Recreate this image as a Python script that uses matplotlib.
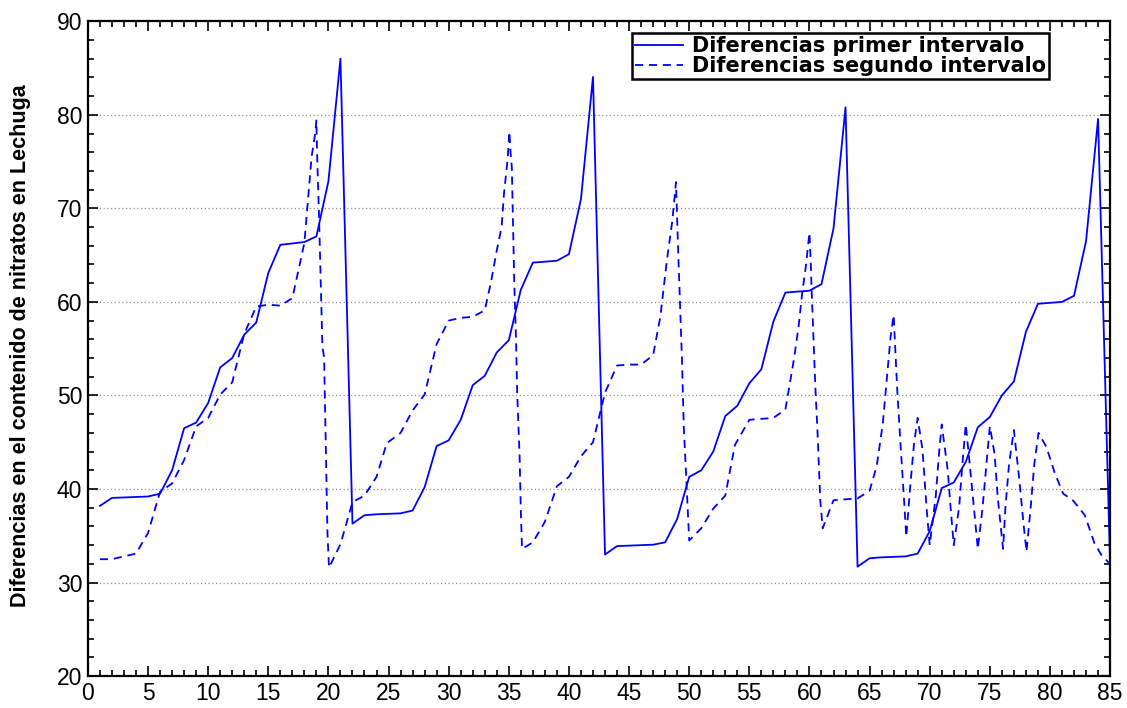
import matplotlib
matplotlib.use("Agg")
import matplotlib.pyplot as plt

# primer intervalo: one value per sample 1..85
x_primer = list(range(1, 86))
y_primer = [38.2, 39.05, 39.1, 39.15, 39.2, 39.5, 42.0, 46.5, 47.1, 49.2,
            53.0, 54.0, 56.5, 57.8, 63.1, 66.1, 66.25, 66.4, 67.0, 72.9,
            86.0, 36.3, 37.2, 37.3, 37.35, 37.4, 37.7, 40.2, 44.6, 45.2,
            47.4, 51.1, 52.1, 54.6, 55.9, 61.3, 64.2, 64.3, 64.4, 65.1,
            71.0, 84.05, 33.0, 33.9, 33.95, 34.0, 34.05, 34.3, 36.8, 41.3,
            42.0, 44.0, 47.8, 48.9, 51.3, 52.8, 57.9, 61.0, 61.1, 61.2,
            61.9, 67.85, 80.8, 31.7, 32.6, 32.7, 32.75, 32.8, 33.1, 35.5,
            40.1, 40.7, 42.9, 46.6, 47.7, 50.0, 51.5, 56.8, 59.8, 59.9,
            60.0, 60.65, 66.5, 79.55, 32.0]

# segundo intervalo (vertices)
x_segundo = [1, 2, 3, 4, 5, 6, 7, 8, 9, 10,
             11, 12, 13, 14, 15, 16, 17, 18, 18.3, 18.6,
             18.9, 19.0, 19.06, 19.22, 19.5, 19.64, 19.92, 20.05, 21, 22,
             23, 24, 24.85, 26, 27, 28, 29, 30, 31, 32,
             33, 33.5, 34, 34.4, 34.6, 34.9, 35.05, 35.15, 35.25, 35.35,
             35.45, 35.6, 35.7, 35.9, 36.0, 36.1, 37, 38, 39, 40,
             41, 42, 43, 44, 45, 46, 47, 47.6, 48.15, 48.6,
             48.9, 49.1, 49.4, 49.55, 49.7, 50.0, 51, 52, 53, 53.8,
             55, 56, 57, 58, 58.7, 59.1, 59.4, 59.7, 60.0, 60.1,
             60.2, 60.5, 60.65, 60.9, 61.1, 62, 63, 64, 65, 65.6,
             66.1, 66.5, 66.75, 67.0, 67.3, 67.6, 67.85, 68.05, 68.4, 68.7,
             69.0, 69.4, 69.75, 70.0, 70.5, 70.8, 71.0, 71.5, 71.75, 72.0,
             72.45, 72.7, 73.0, 73.4, 73.75, 74.0, 74.4, 74.7, 75.0, 75.4,
             75.65, 76.1, 76.3, 76.6, 77.0, 77.45, 77.8, 78.05, 78.4, 78.7,
             79.05, 79.7, 80.4, 81.1, 81.9, 82.9, 83.7, 84.3, 85]
y_segundo = [32.5, 32.5, 32.8, 33.1, 35.3, 39.7, 40.6, 43.1, 46.7, 47.6,
             50.1, 51.4, 56.6, 59.5, 59.7, 59.6, 60.4, 66.3, 70.9, 75.5,
             78.0, 79.4, 75.7, 69.1, 55.2, 54.1, 35.3, 31.6, 34.1, 38.6,
             39.3, 41.3, 44.9, 46.0, 48.4, 50.1, 55.5, 58.0, 58.3, 58.4,
             59.1, 62.0, 65.5, 68.0, 71.6, 75.2, 78.2, 75.9, 74.4, 68.4,
             62.3, 55.9, 50.2, 43.4, 37.7, 33.6, 34.3, 36.5, 40.3, 41.3,
             43.5, 45.0, 50.3, 53.2, 53.3, 53.3, 54.3, 58.4, 64.5, 68.7,
             72.8, 64.8, 53.8, 46.6, 42.7, 34.5, 35.8, 37.9, 39.3, 44.7,
             47.4, 47.5, 47.6, 48.5, 53.8, 57.4, 61.0, 63.8, 67.4, 64.5,
             60.6, 50.6, 46.7, 38.8, 35.8, 38.8, 38.9, 39.0, 39.8, 42.5,
             47.0, 52.7, 56.3, 58.6, 50.6, 44.2, 39.2, 34.9, 40.6, 44.9,
             47.6, 44.2, 37.8, 34.0, 39.2, 44.2, 46.9, 42.0, 37.8, 34.0,
             38.1, 42.4, 46.9, 41.7, 37.0, 33.6, 38.1, 42.4, 46.7, 43.7,
             39.2, 33.6, 38.1, 42.7, 46.3, 41.0, 36.3, 33.3, 38.1, 42.7,
             46.0, 44.5, 41.7, 39.5, 38.8, 37.2, 34.2, 32.9, 32.0]

x_ticks = [0, 5, 10, 15, 20, 25, 30, 35, 40, 45, 50, 55, 60, 65, 70, 75, 80, 85]
y_ticks = [20, 30, 40, 50, 60, 70, 80, 90]

plt.rcParams['font.family'] = ['Liberation Sans', 'DejaVu Sans']

fig = plt.figure(figsize=(11.27, 7.08), dpi=100)
ax = fig.add_axes([0.078, 0.045, 0.907, 0.925])

ax.plot(x_primer, y_primer, color='#0000ff', lw=1.3, label='Diferencias primer intervalo')
ax.plot(x_segundo, y_segundo, color='#0000ff', lw=1.3, linestyle=(0, (4.5, 3.2)),
        label='Diferencias segundo intervalo')

ax.set_xlim(0, 85)
ax.set_ylim(20, 90)
ax.set_xticks(x_ticks)
ax.set_yticks(y_ticks)
ax.set_xticks(range(0, 86), minor=True)
ax.set_yticks(range(20, 91, 2), minor=True)
ax.tick_params(which='both', direction='in', top=True, right=True, labelsize=16.5, width=1.2)
ax.tick_params(which='major', length=7, pad=4)
ax.tick_params(which='minor', length=4)
for s in ax.spines.values():
    s.set_linewidth(1.6)

for v in y_ticks[1:-1]:
    ax.axhline(v, color='#909090', lw=0.9, linestyle=(0, (1, 2)), zorder=0)

ax.set_ylabel('Diferencias en el contenido de nitratos en Lechuga', fontsize=15.5, fontweight='bold')
ax.yaxis.set_label_coords(-0.056, 0.505)

leg = ax.legend(loc='upper right', bbox_to_anchor=(0.94, 0.982), borderaxespad=0,
                fancybox=False, framealpha=1, edgecolor='black',
                prop={'family': 'DejaVu Sans', 'weight': 'bold', 'size': 15},
                handlelength=2.3, borderpad=0.15, labelspacing=0.0, handletextpad=0.4)
leg.get_frame().set_linewidth(1.8)

plt.savefig('out.png', dpi=100)
